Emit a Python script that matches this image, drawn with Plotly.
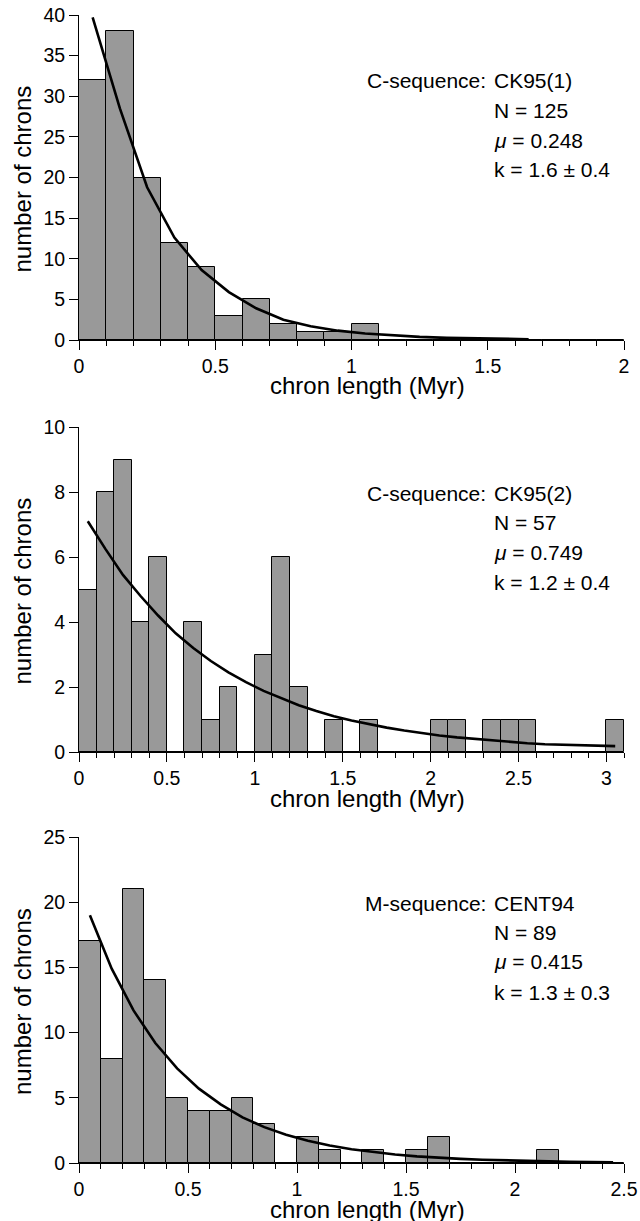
import numpy as np
import plotly.graph_objects as go

# ---------------- data ----------------
bin_width = 0.1

counts1 = [32, 38, 20, 12, 9, 3, 5, 2, 1, 1, 2, 0, 0, 0, 0, 0, 0, 0, 0, 0]
curve1 = [39.7, 28.5, 18.8, 12.6, 8.6, 5.9, 3.9, 2.5, 1.7, 1.15, 0.8, 0.55,
          0.38, 0.26, 0.18, 0.13, 0.1]

counts2 = [5, 8, 9, 4, 6, 0, 4, 1, 2, 0, 3, 6, 2, 0, 1, 0, 1, 0, 0, 0,
           1, 1, 0, 1, 1, 1, 0, 0, 0, 0, 1]
curve2 = [7.1, 6.25, 5.45, 4.8, 4.2, 3.65, 3.2, 2.8, 2.45, 2.15, 1.88, 1.65,
          1.44, 1.26, 1.1, 0.97, 0.85, 0.75, 0.66, 0.58, 0.51, 0.45, 0.4,
          0.35, 0.31, 0.27, 0.24, 0.22, 0.2, 0.19, 0.18]

counts3 = [17, 8, 21, 14, 5, 4, 4, 5, 3, 0, 2, 1, 0, 1, 0, 1, 2, 0, 0, 0,
           0, 1, 0, 0, 0]
curve3 = [19.0, 14.9, 11.7, 9.2, 7.25, 5.7, 4.5, 3.5, 2.75, 2.17, 1.7, 1.34,
          1.06, 0.83, 0.65, 0.51, 0.4, 0.32, 0.25, 0.2, 0.15, 0.12, 0.09,
          0.07, 0.06]

labels1 = ["C-sequence:", "CK95(1)", "N = 125", "<i>μ</i> = 0.248", "k = 1.6 ± 0.4"]
labels2 = ["C-sequence:", "CK95(2)", "N = 57", "<i>μ</i> = 0.749", "k = 1.2 ± 0.4"]
labels3 = ["M-sequence:", "CENT94", "N = 89", "<i>μ</i> = 0.415", "k = 1.3 ± 0.3"]

x_title = "chron length (Myr)"
y_title = "number of chrons"

# ---------------- styling / layout ----------------
FONT = "Liberation Sans, Arial, Helvetica, sans-serif"
W, H = 640, 1221
ML, MR, MT, MB = 79, 16, 15, 58
plot_w = W - ML - MR
plot_h = H - MT - MB

# reference pixel rows of each panel (top of y range, y = 0)
panels = [
    dict(counts=counts1, curve=curve1, labels=labels1, xr=[0, 2], yr=[0, 40], ydt=5,
         top=15, bottom=340),
    dict(counts=counts2, curve=curve2, labels=labels2, xr=[0, 3.1], yr=[0, 10], ydt=2,
         top=427, bottom=752),
    dict(counts=counts3, curve=curve3, labels=labels3, xr=[0, 2.5], yr=[0, 25], ydt=5,
         top=837, bottom=1163),
]


def py(px):
    """pixel row -> paper fraction"""
    return (H - MB - px) / plot_h


def pxx(px):
    """pixel column -> paper fraction"""
    return (px - ML) / plot_w


fig = go.Figure()
annotations = []
layout_axes = {}

for i, p in enumerate(panels, start=1):
    xa = "x" if i == 1 else f"x{i}"
    ya = "y" if i == 1 else f"y{i}"
    n = len(p["counts"])
    centers = np.round(np.arange(n) * bin_width + bin_width / 2, 3)
    fig.add_trace(go.Bar(
        x=centers, y=p["counts"], width=bin_width,
        marker=dict(color="#999999", line=dict(color="black", width=1)),
        xaxis=xa, yaxis=ya, showlegend=False, hoverinfo="skip"))
    cx = np.round(np.arange(len(p["curve"])) * bin_width + bin_width / 2, 3)
    fig.add_trace(go.Scatter(
        x=cx, y=p["curve"], mode="lines",
        line=dict(color="black", width=2.6),
        xaxis=xa, yaxis=ya, showlegend=False, hoverinfo="skip"))

    dom = [py(p["bottom"]), py(p["top"])]
    xkey = "xaxis" if i == 1 else f"xaxis{i}"
    ykey = "yaxis" if i == 1 else f"yaxis{i}"
    layout_axes[xkey] = dict(
        domain=[0, 1], anchor=ya, range=p["xr"], showgrid=False, zeroline=False,
        automargin=False, ticklabeloverflow="allow",
        showline=True, linecolor="black", linewidth=1,
        ticks="outside", tick0=0, dtick=0.5, ticklen=9, tickwidth=1, tickcolor="black",
        minor=dict(dtick=0.1, tick0=0, ticks="outside", ticklen=5, tickwidth=1,
                   tickcolor="black", showgrid=False),
        tickfont=dict(family=FONT, size=19.5, color="black"))
    layout_axes[ykey] = dict(
        domain=dom, anchor=xa, range=p["yr"], showgrid=False, zeroline=False,
        automargin=False, ticklabeloverflow="allow",
        showline=True, linecolor="black", linewidth=1,
        ticks="outside", tick0=0, dtick=p["ydt"], ticklen=9, tickwidth=1,
        tickcolor="black",
        tickfont=dict(family=FONT, size=19.5, color="black"))

    # axis titles as annotations
    annotations.append(dict(
        text=x_title, xref="paper", yref="paper",
        x=pxx(367), y=py(p["bottom"] + 46),
        xanchor="center", yanchor="middle", showarrow=False,
        font=dict(family=FONT, size=24, color="black")))
    annotations.append(dict(
        text=y_title, xref="paper", yref="paper",
        x=pxx(22), y=py((p["top"] + p["bottom"]) / 2 + 2),
        xanchor="center", yanchor="middle", textangle=-90, showarrow=False,
        font=dict(family=FONT, size=24, color="black")))

    # statistics text
    offs = [66, 95.5, 125, 155]
    afont = dict(family=FONT, size=21, color="black")
    annotations.append(dict(text=p["labels"][0], xref="paper", yref="paper",
                            x=pxx(488), y=py(p["top"] + offs[0]),
                            xanchor="right", yanchor="middle", showarrow=False,
                            font=afont))
    annotations.append(dict(text=p["labels"][1], xref="paper", yref="paper",
                            x=pxx(492), y=py(p["top"] + offs[0]),
                            xanchor="left", yanchor="middle", showarrow=False,
                            font=afont))
    for k in range(3):
        annotations.append(dict(text=p["labels"][k + 2], xref="paper", yref="paper",
                                x=pxx(492), y=py(p["top"] + offs[k + 1]),
                                xanchor="left", yanchor="middle", showarrow=False,
                                font=afont))

fig.update_layout(
    width=W, height=H,
    margin=dict(l=ML, r=MR, t=MT, b=MB, pad=0, autoexpand=False),
    paper_bgcolor="white", plot_bgcolor="white",
    bargap=0, barmode="overlay",
    font=dict(family=FONT, color="black"),
    annotations=annotations,
    **layout_axes,
)

fig.write_html("out.html",
               config={"displayModeBar": False},
               post_script="document.body.style.margin='0';"
                           "document.body.style.overflow='hidden';")
